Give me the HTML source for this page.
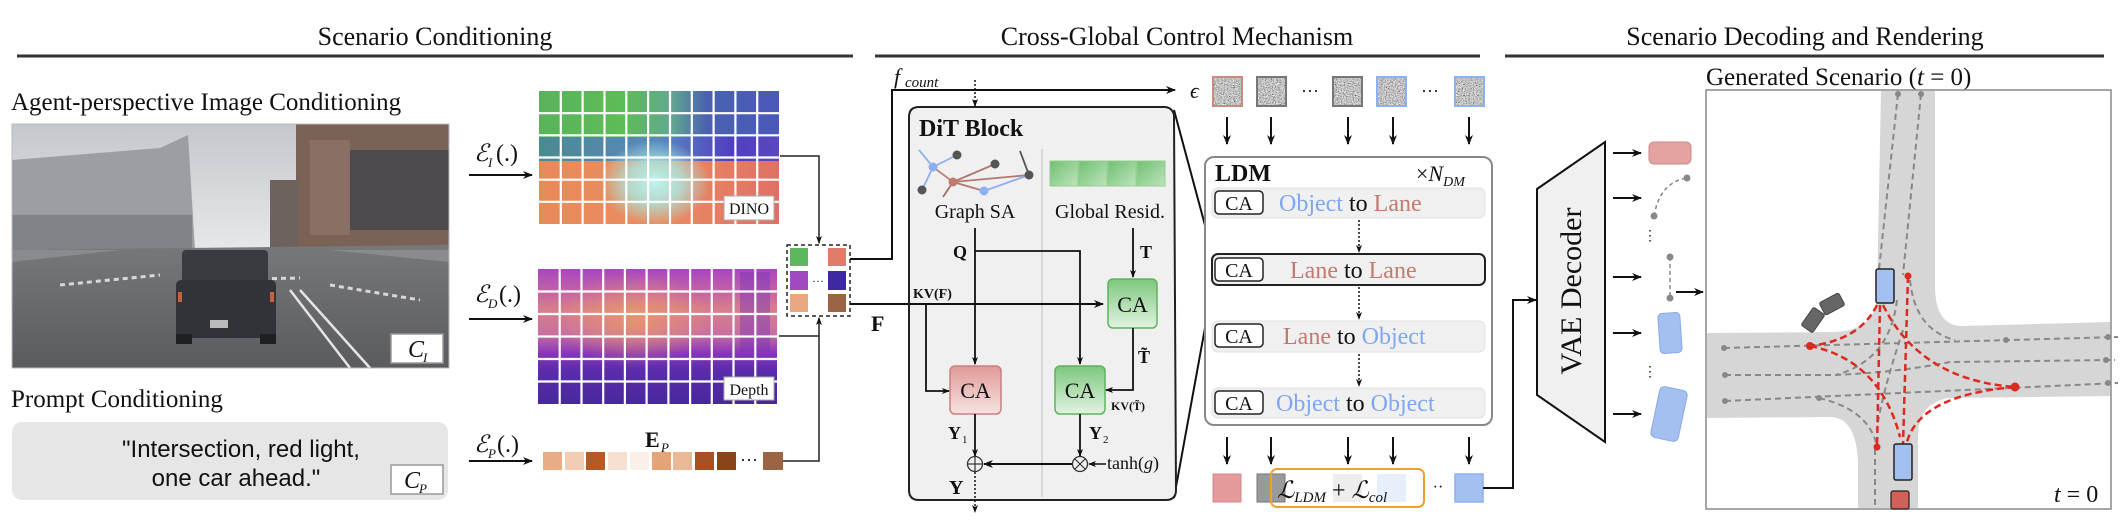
<!DOCTYPE html>
<html><head><meta charset="utf-8"><style>
html,body{margin:0;padding:0;background:#fff;}
svg{display:block;}
text{font-family:"Liberation Serif","DejaVu Serif",serif;fill:#111;}
.sans{font-family:"Liberation Sans","DejaVu Sans",sans-serif;}
.it{font-style:italic;}
.b{font-weight:bold;}
</style></head><body>
<svg width="2128" height="525" viewBox="0 0 2128 525" xmlns="http://www.w3.org/2000/svg">
<defs>
<marker id="ar" markerWidth="10" markerHeight="10" refX="9" refY="5" orient="auto" markerUnits="userSpaceOnUse"><path d="M0,1 L10,5 L0,9 L3,5 Z" fill="#111"/></marker>
<marker id="ars" markerWidth="8" markerHeight="8" refX="7" refY="4" orient="auto" markerUnits="userSpaceOnUse"><path d="M0,1 L8,4 L0,7 L2,4 Z" fill="#111"/></marker>
<filter id="noise" x="0" y="0" width="100%" height="100%"><feTurbulence type="fractalNoise" baseFrequency="0.9" numOctaves="2" seed="3"/><feColorMatrix type="matrix" values="0.33 0.33 0.33 0 0  0.33 0.33 0.33 0 0  0.33 0.33 0.33 0 0  0 0 0 0 1"/><feComponentTransfer><feFuncR type="linear" slope="2.6" intercept="-0.75"/><feFuncG type="linear" slope="2.6" intercept="-0.75"/><feFuncB type="linear" slope="2.6" intercept="-0.75"/></feComponentTransfer></filter>
<linearGradient id="dinoTop" x1="0" x2="1" y1="0" y2="0"><stop offset="0" stop-color="#5ab35c"/><stop offset="0.35" stop-color="#5cbc55"/><stop offset="0.55" stop-color="#62a890"/><stop offset="0.7" stop-color="#4a62b0"/><stop offset="1" stop-color="#4a58b8"/></linearGradient>
<linearGradient id="dinoMid" x1="0" x2="1" y1="0" y2="0"><stop offset="0" stop-color="#4a8a90"/><stop offset="0.5" stop-color="#5a88c0"/><stop offset="0.8" stop-color="#5040c0"/><stop offset="1" stop-color="#5a48c0"/></linearGradient>
<linearGradient id="dinoBot" x1="0" x2="1" y1="0" y2="0"><stop offset="0" stop-color="#e88a58"/><stop offset="0.5" stop-color="#ea8c60"/><stop offset="1" stop-color="#e07066"/></linearGradient>
<radialGradient id="glow" cx="0.5" cy="0.5" r="0.5"><stop offset="0" stop-color="#bff4ee"/><stop offset="0.5" stop-color="#a8e8e0" stop-opacity="0.8"/><stop offset="1" stop-color="#a8e8e0" stop-opacity="0"/></radialGradient>
<linearGradient id="depth" x1="0" x2="0" y1="0" y2="1"><stop offset="0" stop-color="#a846c0"/><stop offset="0.15" stop-color="#c060a8"/><stop offset="0.3" stop-color="#d87e8a"/><stop offset="0.48" stop-color="#c870a0"/><stop offset="0.62" stop-color="#8a36b8"/><stop offset="0.75" stop-color="#5a2cac"/><stop offset="1" stop-color="#48289e"/></linearGradient>
<radialGradient id="orangeP" cx="0.5" cy="0.5" r="0.5"><stop offset="0" stop-color="#f0a060" stop-opacity="0.7"/><stop offset="1" stop-color="#f0a060" stop-opacity="0"/></radialGradient>
<linearGradient id="gCA" x1="0" x2="0" y1="0" y2="1"><stop offset="0" stop-color="#7cc77c"/><stop offset="1" stop-color="#e2f3e2"/></linearGradient>
<linearGradient id="rCA" x1="0" x2="0" y1="0" y2="1"><stop offset="0" stop-color="#e09a98"/><stop offset="1" stop-color="#f6e2e0"/></linearGradient>
<linearGradient id="gsq" x1="0" x2="1" y1="0" y2="1"><stop offset="0" stop-color="#6fc06f"/><stop offset="1" stop-color="#bfe3bf"/></linearGradient>
<linearGradient id="sky" x1="0" x2="0" y1="0" y2="1"><stop offset="0" stop-color="#c4c7cc"/><stop offset="0.6" stop-color="#eceded"/><stop offset="1" stop-color="#d5d6d8"/></linearGradient>
<linearGradient id="road" x1="0" x2="0" y1="0" y2="1"><stop offset="0" stop-color="#77787b"/><stop offset="1" stop-color="#5a5b5e"/></linearGradient>
</defs>

<text x="435" y="45" font-size="26" text-anchor="middle">Scenario Conditioning</text>
<line x1="17" y1="56" x2="853" y2="56" stroke="#333" stroke-width="3"/>
<text x="1177" y="45" font-size="26" text-anchor="middle">Cross-Global Control Mechanism</text>
<line x1="875" y1="56" x2="1480" y2="56" stroke="#333" stroke-width="3"/>
<text x="1805" y="45" font-size="26" text-anchor="middle">Scenario Decoding and Rendering</text>
<line x1="1505" y1="56" x2="2104" y2="56" stroke="#333" stroke-width="3"/>

<text x="11" y="110" font-size="25">Agent-perspective Image Conditioning</text>
<g>
<rect x="12" y="124" width="437" height="244" fill="url(#sky)"/>
<path d="M12,160 L160,148 L188,135 L195,250 L12,262 Z" fill="#9c9ea3"/>
<rect x="12" y="215" width="180" height="45" fill="#7f8287"/>
<path d="M296,124 L449,124 L449,248 L296,250 Z" fill="#7b6256"/>
<rect x="350" y="150" width="99" height="80" fill="#4c4a4c"/>
<rect x="310" y="140" width="40" height="95" fill="#8a7064"/>
<rect x="270" y="180" width="28" height="70" fill="#6e625c"/>
<path d="M12,250 L449,245 L449,368 L12,368 Z" fill="url(#road)"/>
<path d="M12,262 L120,250 L330,250 L449,262 L449,250 L12,250Z" fill="#8a8b8e"/>
<path d="M60,285 L160,275 M200,280 L300,278 M330,285 L420,300" stroke="#d8d8d8" stroke-width="3" stroke-dasharray="5 4"/>
<path d="M290,290 L350,368 M300,290 L370,368" stroke="#e4e4e4" stroke-width="2.5"/>
<rect x="182" y="250" width="86" height="34" rx="4" fill="#3a3b40"/>
<rect x="176" y="280" width="100" height="58" rx="5" fill="#323338"/>
<rect x="176" y="334" width="16" height="10" fill="#1f2023"/>
<rect x="260" y="334" width="16" height="10" fill="#1f2023"/>
<rect x="210" y="320" width="18" height="8" fill="#bbb"/>
<rect x="178" y="292" width="4" height="10" fill="#c56040"/>
<rect x="270" y="292" width="4" height="10" fill="#c56040"/>
<rect x="12" y="124" width="437" height="244" fill="none" stroke="#bbb" stroke-width="1"/>
</g>
<rect x="391" y="334" width="52" height="29" fill="#fff" stroke="#999" stroke-width="1.5"/>
<text x="408" y="357" font-size="24" class="it">C</text><text x="423" y="362" font-size="13" class="it">I</text>

<text x="11" y="407" font-size="25">Prompt Conditioning</text>
<rect x="12" y="422" width="436" height="78" rx="10" fill="#e6e6e6"/>
<text x="241" y="457" font-size="24" text-anchor="middle" class="sans">"Intersection, red light,</text>
<text x="236" y="486" font-size="24" text-anchor="middle" class="sans">one car ahead."</text>
<rect x="391" y="465" width="52" height="29" fill="#fff" stroke="#999" stroke-width="1.5"/>
<text x="404" y="488" font-size="24" class="it">C</text><text x="419" y="493" font-size="13" class="it">P</text>

<text x="474" y="161" font-size="24" class="it">ℰ</text><text x="488" y="167" font-size="13" class="it">I</text><text x="496" y="161" font-size="24">(.)</text>
<line x1="469" y1="175" x2="532" y2="175" stroke="#111" stroke-width="2" marker-end="url(#ar)"/>
<text x="474" y="302" font-size="24" class="it">ℰ</text><text x="488" y="308" font-size="13" class="it">D</text><text x="499" y="302" font-size="24">(.)</text>
<line x1="469" y1="319" x2="532" y2="319" stroke="#111" stroke-width="2" marker-end="url(#ar)"/>
<text x="474" y="452" font-size="24" class="it">ℰ</text><text x="488" y="458" font-size="13" class="it">P</text><text x="497" y="452" font-size="24">(.)</text>
<line x1="469" y1="461" x2="532" y2="461" stroke="#111" stroke-width="2" marker-end="url(#ar)"/>

<g>
<rect x="539" y="91" width="240" height="133" fill="url(#dinoBot)"/>
<rect x="539" y="91" width="240" height="70" fill="url(#dinoMid)"/>
<rect x="539" y="91" width="240" height="46" fill="url(#dinoTop)"/>
<rect x="600" y="140" width="110" height="85" fill="url(#glow)"/>
<g stroke="#fff" stroke-width="2.2">
<line x1="560.8" y1="91" x2="560.8" y2="224"/><line x1="582.6" y1="91" x2="582.6" y2="224"/><line x1="604.5" y1="91" x2="604.5" y2="224"/><line x1="626.3" y1="91" x2="626.3" y2="224"/><line x1="648.1" y1="91" x2="648.1" y2="224"/><line x1="670" y1="91" x2="670" y2="224"/><line x1="691.8" y1="91" x2="691.8" y2="224"/><line x1="713.6" y1="91" x2="713.6" y2="224"/><line x1="735.4" y1="91" x2="735.4" y2="224"/><line x1="757.2" y1="91" x2="757.2" y2="224"/>
<line x1="539" y1="113.2" x2="779" y2="113.2"/><line x1="539" y1="135.3" x2="779" y2="135.3"/><line x1="539" y1="157.5" x2="779" y2="157.5"/><line x1="539" y1="179.7" x2="779" y2="179.7"/><line x1="539" y1="201.8" x2="779" y2="201.8"/>
</g>
<rect x="724" y="196" width="50" height="24" fill="#fff" stroke="#aaa"/>
<text x="749" y="214" font-size="16" text-anchor="middle">DINO</text>
</g>

<g>
<rect x="538" y="269" width="239" height="135" fill="url(#depth)"/>
<rect x="560" y="272" width="150" height="95" fill="url(#orangeP)"/>
<rect x="740" y="272" width="30" height="80" fill="#7a36b8" opacity="0.45"/>
<g stroke="#fff" stroke-width="2.2">
<line x1="559.7" y1="269" x2="559.7" y2="404"/><line x1="581.5" y1="269" x2="581.5" y2="404"/><line x1="603.2" y1="269" x2="603.2" y2="404"/><line x1="624.9" y1="269" x2="624.9" y2="404"/><line x1="646.6" y1="269" x2="646.6" y2="404"/><line x1="668.4" y1="269" x2="668.4" y2="404"/><line x1="690.1" y1="269" x2="690.1" y2="404"/><line x1="711.8" y1="269" x2="711.8" y2="404"/><line x1="733.5" y1="269" x2="733.5" y2="404"/><line x1="755.3" y1="269" x2="755.3" y2="404"/>
<line x1="538" y1="291.5" x2="777" y2="291.5"/><line x1="538" y1="314" x2="777" y2="314"/><line x1="538" y1="336.5" x2="777" y2="336.5"/><line x1="538" y1="359" x2="777" y2="359"/><line x1="538" y1="381.5" x2="777" y2="381.5"/>
</g>
<rect x="724" y="377" width="50" height="23" fill="#fff" stroke="#aaa"/>
<text x="749" y="395" font-size="16" text-anchor="middle">Depth</text>
</g>

<text x="645" y="447" font-size="22" class="b">E</text><text x="661" y="452" font-size="13" class="it">P</text>
<g>
<rect x="543" y="452" width="19" height="18" fill="#e8ad84"/>
<rect x="565" y="452" width="19" height="18" fill="#f3cdb3"/>
<rect x="586" y="452" width="19" height="18" fill="#b35a25"/>
<rect x="608" y="452" width="19" height="18" fill="#f6e0d2"/>
<rect x="630" y="452" width="19" height="18" fill="#faf0e8"/>
<rect x="652" y="452" width="19" height="18" fill="#e5a377"/>
<rect x="673" y="452" width="19" height="18" fill="#eab797"/>
<rect x="695" y="452" width="19" height="18" fill="#a75022"/>
<rect x="717" y="452" width="19" height="18" fill="#8b4419"/>
<text x="749" y="466" font-size="18" text-anchor="middle">···</text>
<rect x="763" y="452" width="20" height="18" fill="#9b6545"/>
</g>

<polyline points="780,156 819,156 819,243" fill="none" stroke="#222" stroke-width="1.5" marker-end="url(#ars)"/>
<polyline points="783,461 819,461 819,318" fill="none" stroke="#222" stroke-width="1.5" marker-end="url(#ars)"/>
<line x1="779" y1="336" x2="819" y2="336" stroke="#222" stroke-width="1.5"/>
<rect x="787" y="245" width="63" height="71" fill="#fff" stroke="#222" stroke-width="1.5" stroke-dasharray="4 3"/>
<rect x="790" y="248" width="18" height="18" fill="#5cb85c"/>
<rect x="828" y="248" width="18" height="18" fill="#e07d68"/>
<rect x="790" y="271" width="18" height="19" fill="#a049c0"/>
<text x="818" y="285" font-size="12" text-anchor="middle">···</text>
<rect x="828" y="271" width="18" height="19" fill="#4028a0"/>
<rect x="790" y="294" width="18" height="18" fill="#e9a882"/>
<rect x="828" y="294" width="18" height="18" fill="#9b6545"/>

<polyline points="850,259 892,259 892,90 1175,90" fill="none" stroke="#111" stroke-width="2" marker-end="url(#ar)"/>
<text x="894" y="84" font-size="22" class="it">f</text><text x="905" y="87" font-size="15" class="it">count</text>
<line x1="850" y1="304" x2="1103" y2="304" stroke="#111" stroke-width="2" marker-end="url(#ar)"/>
<text x="871" y="331" font-size="22" class="b">F</text>

<line x1="1174" y1="110" x2="1213" y2="255" stroke="#111" stroke-width="2"/>
<line x1="1174" y1="498" x2="1213" y2="284" stroke="#111" stroke-width="2"/>

<path d="M919,107 L1164,107 Q1172,107 1174,115 L1176,490 Q1176,500 1166,500 L919,500 Q909,500 909,490 L909,117 Q909,107 919,107 Z" fill="#f0f0f0" stroke="#222" stroke-width="2"/>
<line x1="1042" y1="149" x2="1042" y2="497" stroke="#d0d0d0" stroke-width="1.5"/>
<line x1="975" y1="80" x2="975" y2="106" stroke="#111" stroke-width="1.5" stroke-dasharray="2 2" marker-end="url(#ars)"/>
<text x="919" y="136" font-size="24" class="b">DiT Block</text>
<line x1="909" y1="304" x2="1103" y2="304" stroke="#111" stroke-width="2" marker-end="url(#ar)"/>
<text x="913" y="298" font-size="14" class="b">KV(F)</text>
<g stroke-width="1.8">
<line x1="919" y1="150" x2="933" y2="167" stroke="#8fb0ef"/>
<line x1="933" y1="167" x2="957" y2="155" stroke="#8fb0ef"/>
<line x1="933" y1="167" x2="922" y2="190" stroke="#8fb0ef"/>
<line x1="933" y1="167" x2="953" y2="182" stroke="#c08080"/>
<line x1="953" y1="182" x2="995" y2="164" stroke="#b07870"/>
<line x1="953" y1="182" x2="1029" y2="175" stroke="#b07870"/>
<line x1="953" y1="182" x2="984" y2="191" stroke="#b07870"/>
<line x1="984" y1="191" x2="1029" y2="175" stroke="#8fb0ef"/>
<line x1="1020" y1="151" x2="1029" y2="175" stroke="#555"/>
<line x1="953" y1="182" x2="943" y2="197" stroke="#a07060"/>
</g>
<circle cx="957" cy="155" r="4.5" fill="#555"/><circle cx="995" cy="164" r="4.5" fill="#555"/><circle cx="1029" cy="175" r="4.5" fill="#555"/><circle cx="922" cy="190" r="4.5" fill="#555"/>
<circle cx="933" cy="167" r="4.5" fill="#8fb0ef"/><circle cx="984" cy="191" r="4.5" fill="#8fb0ef"/><circle cx="953" cy="182" r="4.5" fill="#c07a70"/>
<text x="975" y="218" font-size="20" text-anchor="middle">Graph SA</text>
<rect x="1050" y="161" width="28" height="25" fill="url(#gsq)" stroke="#8fcf8f"/>
<rect x="1079" y="161" width="28" height="25" fill="url(#gsq)" stroke="#8fcf8f"/>
<rect x="1108" y="161" width="28" height="25" fill="url(#gsq)" stroke="#8fcf8f"/>
<rect x="1137" y="161" width="28" height="25" fill="url(#gsq)" stroke="#8fcf8f"/>
<text x="1110" y="218" font-size="20" text-anchor="middle">Global Resid.</text>
<line x1="975" y1="228" x2="975" y2="364" stroke="#111" stroke-width="1.8" marker-end="url(#ars)"/>
<text x="953" y="258" font-size="18" class="b">Q</text>
<polyline points="975,251 1080,251 1080,364" fill="none" stroke="#111" stroke-width="1.8" marker-end="url(#ars)"/>
<line x1="1133" y1="228" x2="1133" y2="277" stroke="#111" stroke-width="1.8" marker-end="url(#ars)"/>
<text x="1140" y="258" font-size="18" class="b">T</text>
<rect x="1108" y="279" width="49" height="49" rx="5" fill="url(#gCA)" stroke="#5fb35f" stroke-width="1.5"/>
<text x="1132.5" y="312" font-size="22" text-anchor="middle">CA</text>
<rect x="950" y="366" width="51" height="48" rx="5" fill="url(#rCA)" stroke="#c98080" stroke-width="1.5"/>
<text x="975.5" y="398" font-size="22" text-anchor="middle">CA</text>
<rect x="1055" y="366" width="50" height="48" rx="5" fill="url(#gCA)" stroke="#5fb35f" stroke-width="1.5"/>
<text x="1080" y="398" font-size="22" text-anchor="middle">CA</text>
<polyline points="1133,328 1133,390 1106,390" fill="none" stroke="#111" stroke-width="1.8" marker-end="url(#ars)"/>
<text x="1138" y="363" font-size="18" class="b">T̃</text>
<text x="1111" y="410" font-size="12" class="b">KV(T̃)</text>
<polyline points="926,304 926,391 949,391" fill="none" stroke="#111" stroke-width="1.8" marker-end="url(#ars)"/>
<line x1="975" y1="414" x2="975" y2="456" stroke="#111" stroke-width="1.8" marker-end="url(#ars)"/>
<line x1="1080" y1="414" x2="1080" y2="456" stroke="#111" stroke-width="1.8" marker-end="url(#ars)"/>
<text x="948" y="439" font-size="18" class="b">Y</text><text x="962" y="443" font-size="11">1</text>
<text x="1089" y="439" font-size="18" class="b">Y</text><text x="1103" y="443" font-size="11">2</text>
<circle cx="975" cy="464" r="7.5" fill="none" stroke="#333" stroke-width="1.3"/>
<line x1="967.5" y1="464" x2="982.5" y2="464" stroke="#333" stroke-width="1.2"/><line x1="975" y1="456.5" x2="975" y2="471.5" stroke="#333" stroke-width="1.2"/>
<circle cx="1080" cy="464" r="7.5" fill="none" stroke="#333" stroke-width="1.3"/>
<line x1="1075" y1="459" x2="1085" y2="469" stroke="#333" stroke-width="1.2"/><line x1="1085" y1="459" x2="1075" y2="469" stroke="#333" stroke-width="1.2"/>
<line x1="1072" y1="464" x2="984" y2="464" stroke="#111" stroke-width="2" marker-end="url(#ar)"/>
<line x1="1106" y1="464" x2="1089" y2="464" stroke="#111" stroke-width="1.5" marker-end="url(#ars)"/>
<text x="1107" y="469" font-size="18">tanh(<tspan class="it">g</tspan>)</text>
<text x="949" y="494" font-size="20" class="b">Y</text>
<line x1="975" y1="472" x2="975" y2="512" stroke="#111" stroke-width="1.5" stroke-dasharray="2 2" marker-end="url(#ars)"/>

<text x="1190" y="98" font-size="22" class="it">ϵ</text>
<g>
<rect x="1213" y="77" width="29" height="29" fill="#fff" filter="url(#noise)"/><rect x="1213" y="77" width="29" height="29" fill="none" stroke="#c98a84" stroke-width="2"/>
<rect x="1257" y="77" width="29" height="29" fill="#fff" filter="url(#noise)"/><rect x="1257" y="77" width="29" height="29" fill="none" stroke="#777" stroke-width="2"/>
<text x="1310" y="97" font-size="18" text-anchor="middle">···</text>
<rect x="1333" y="77" width="29" height="29" fill="#fff" filter="url(#noise)"/><rect x="1333" y="77" width="29" height="29" fill="none" stroke="#777" stroke-width="2"/>
<rect x="1377" y="77" width="29" height="29" fill="#fff" filter="url(#noise)"/><rect x="1377" y="77" width="29" height="29" fill="none" stroke="#8fb0ef" stroke-width="2"/>
<text x="1430" y="97" font-size="18" text-anchor="middle">···</text>
<rect x="1455" y="77" width="29" height="29" fill="#fff" filter="url(#noise)"/><rect x="1455" y="77" width="29" height="29" fill="none" stroke="#8fb0ef" stroke-width="2"/>
</g>
<g stroke="#111" stroke-width="2">
<line x1="1227" y1="117" x2="1227" y2="144" marker-end="url(#ar)"/>
<line x1="1271" y1="117" x2="1271" y2="144" marker-end="url(#ar)"/>
<line x1="1348" y1="117" x2="1348" y2="144" marker-end="url(#ar)"/>
<line x1="1393" y1="117" x2="1393" y2="144" marker-end="url(#ar)"/>
<line x1="1469" y1="117" x2="1469" y2="144" marker-end="url(#ar)"/>
<line x1="1227" y1="437" x2="1227" y2="464" marker-end="url(#ar)"/>
<line x1="1271" y1="437" x2="1271" y2="464" marker-end="url(#ar)"/>
<line x1="1348" y1="437" x2="1348" y2="464" marker-end="url(#ar)"/>
<line x1="1393" y1="437" x2="1393" y2="464" marker-end="url(#ar)"/>
<line x1="1469" y1="437" x2="1469" y2="464" marker-end="url(#ar)"/>
</g>

<rect x="1205" y="157" width="287" height="268" rx="9" fill="#fff" stroke="#888" stroke-width="2"/>
<text x="1215" y="181" font-size="24" class="b">LDM</text>
<text x="1416" y="181" font-size="22">×<tspan class="it">N</tspan><tspan class="it" font-size="14" dy="5">DM</tspan></text>
<rect x="1212" y="188" width="273" height="30" rx="6" fill="#f0f0f0" stroke="#e0e0e0"/>
<rect x="1212" y="254" width="273" height="31" rx="6" fill="#f0f0f0" stroke="#222" stroke-width="2"/>
<rect x="1212" y="321" width="273" height="31" rx="6" fill="#f0f0f0" stroke="#e0e0e0"/>
<rect x="1212" y="388" width="273" height="30" rx="6" fill="#f0f0f0" stroke="#e0e0e0"/>
<g fill="#fff" stroke="#222" stroke-width="1.5">
<rect x="1215" y="191" width="48" height="23" rx="4"/>
<rect x="1215" y="258" width="48" height="23" rx="4"/>
<rect x="1215" y="324" width="48" height="23" rx="4"/>
<rect x="1215" y="391" width="48" height="23" rx="4"/>
</g>
<g font-size="20" text-anchor="middle"><text x="1239" y="210">CA</text><text x="1239" y="277">CA</text><text x="1239" y="343">CA</text><text x="1239" y="410">CA</text></g>
<g font-size="24">
<text x="1279" y="211"><tspan fill="#7fa6f0">Object</tspan> to <tspan fill="#c07a70">Lane</tspan></text>
<text x="1290" y="278"><tspan fill="#c07a70">Lane</tspan> to <tspan fill="#c07a70">Lane</tspan></text>
<text x="1283" y="344"><tspan fill="#c07a70">Lane</tspan> to <tspan fill="#7fa6f0">Object</tspan></text>
<text x="1276" y="411"><tspan fill="#7fa6f0">Object</tspan> to <tspan fill="#7fa6f0">Object</tspan></text>
</g>
<g stroke="#111" stroke-width="1.5" stroke-dasharray="2 2">
<line x1="1359" y1="220" x2="1359" y2="252" marker-end="url(#ars)"/>
<line x1="1359" y1="287" x2="1359" y2="319" marker-end="url(#ars)"/>
<line x1="1359" y1="354" x2="1359" y2="386" marker-end="url(#ars)"/>
</g>

<rect x="1213" y="474" width="28" height="28" fill="#e49a9a" stroke="#d08888"/>
<rect x="1257" y="474" width="28" height="28" fill="#9a9a9a" stroke="#777"/>
<rect x="1333" y="474" width="29" height="28" fill="#ededed"/>
<rect x="1377" y="474" width="29" height="28" fill="#e8effc"/>
<rect x="1271" y="469" width="153" height="38" rx="6" fill="none" stroke="#f0a030" stroke-width="2"/>
<text x="1277" y="498" font-size="24" class="it">ℒ<tspan font-size="15" dy="4">LDM</tspan><tspan dy="-4" font-style="normal"> + </tspan>ℒ<tspan font-size="15" dy="4">col</tspan></text>
<text x="1438" y="492" font-size="16" text-anchor="middle">··</text>
<rect x="1455" y="474" width="28" height="28" fill="#a4c0f0" stroke="#8fb0ef" stroke-width="1.5"/>
<polyline points="1483,488 1513,488 1513,300 1536,300" fill="none" stroke="#111" stroke-width="2" marker-end="url(#ar)"/>

<path d="M1537,189 L1605,142 L1605,442 L1537,395 Z" fill="#f0f0f0" stroke="#111" stroke-width="2"/>
<text x="0" y="0" font-size="30" text-anchor="middle" transform="translate(1581,291) rotate(-90)">VAE Decoder</text>
<g stroke="#111" stroke-width="2">
<line x1="1613" y1="153" x2="1641" y2="153" marker-end="url(#ar)"/>
<line x1="1613" y1="198" x2="1641" y2="198" marker-end="url(#ar)"/>
<line x1="1613" y1="277" x2="1641" y2="277" marker-end="url(#ar)"/>
<line x1="1613" y1="333" x2="1641" y2="333" marker-end="url(#ar)"/>
<line x1="1613" y1="414" x2="1641" y2="414" marker-end="url(#ar)"/>
<line x1="1676" y1="292" x2="1703" y2="292" marker-end="url(#ar)"/>
</g>
<rect x="1649" y="142" width="42" height="22" rx="5" fill="#e4a3a0" stroke="#cc8a88"/>
<path d="M1654,216 Q1660,182 1687,178" fill="none" stroke="#888" stroke-width="1.5" stroke-dasharray="4 3"/>
<circle cx="1654" cy="216" r="3.5" fill="#888"/><circle cx="1687" cy="178" r="3.5" fill="#888"/>
<text x="1650" y="240" font-size="14" text-anchor="middle">⋮</text>
<line x1="1670" y1="257" x2="1670" y2="298" stroke="#888" stroke-width="1.5" stroke-dasharray="4 3"/>
<circle cx="1670" cy="257" r="3.5" fill="#888"/><circle cx="1670" cy="298" r="3.5" fill="#888"/>
<rect x="-11" y="-20" width="22" height="40" rx="4" fill="#a4c0f0" stroke="#8aaae8" transform="translate(1670,333) rotate(-4)"/>
<text x="1650" y="376" font-size="14" text-anchor="middle">⋮</text>
<rect x="-14" y="-26" width="28" height="52" rx="5" fill="#a4c0f0" stroke="#8aaae8" transform="translate(1669,414) rotate(12)"/>

<text x="1706" y="85" font-size="25">Generated Scenario  (<tspan class="it">t</tspan> = 0)</text>
<rect x="1706" y="90" width="405" height="419" fill="#fff" stroke="#888" stroke-width="1.5"/>
<path d="M1881,91 L1935,91 L1935,285 Q1935,326 1962,326 L2110,322 L2110,396 L1948,398 Q1918,404 1918,436 L1918,508 L1858,508 L1858,462 Q1856,417 1830,417 L1707,418 L1707,333 L1835,332 Q1876,330 1877,296 Z" fill="#d6d6d6"/>
<g fill="none" stroke="#888" stroke-width="2" stroke-dasharray="6 4">
<line x1="1898" y1="94" x2="1879" y2="269"/>
<line x1="1921" y1="94" x2="1903" y2="275"/>
<path d="M1724,348 L2118,337"/>
<path d="M1725,375 L1836,375 Q1900,372 1950,362 L2115,360"/>
<path d="M1725,401 L2118,383"/>
<path d="M1910,280 Q1915,330 1955,340"/>
<path d="M1897,300 Q1890,360 1836,375"/>
<path d="M1819,398 Q1870,410 1877,447"/>
<path d="M1903,330 Q1880,400 1877,430"/>
<path d="M1875,449 L1875,509"/>
</g>
<g fill="#888"><circle cx="1898" cy="94" r="3"/><circle cx="1921" cy="94" r="3"/><circle cx="1724" cy="348" r="3"/><circle cx="1725" cy="375" r="3"/><circle cx="1725" cy="401" r="3"/><circle cx="2006" cy="340" r="3"/><circle cx="2108" cy="337" r="3"/><circle cx="2106" cy="360" r="3"/><circle cx="2108" cy="383" r="3"/><circle cx="1819" cy="398" r="3"/></g>
<g fill="none" stroke="#dd2a20" stroke-width="2.5" stroke-dasharray="7 4">
<path d="M1877,305 Q1860,340 1810,346"/>
<path d="M1880,305 L1877,447"/>
<path d="M1883,305 Q1920,380 2015,387"/>
<path d="M1908,276 L1903,445"/>
<path d="M1810,346 Q1880,360 1900,437"/>
<path d="M2015,387 Q1920,395 1907,442"/>
</g>
<g fill="#dd2a20"><circle cx="1810" cy="346" r="4"/><circle cx="1908" cy="276" r="3.5"/><circle cx="2015" cy="387" r="4.5"/><circle cx="1877" cy="447" r="3.5"/></g>
<rect x="1876" y="269" width="18" height="34" rx="2" fill="#a4c0f0" stroke="#222" stroke-width="1.5"/>
<rect x="1894" y="444" width="18" height="36" rx="2" fill="#a4c0f0" stroke="#222" stroke-width="1.5"/>
<rect x="1891" y="491" width="18" height="18" rx="2" fill="#d06058" stroke="#222" stroke-width="1.2"/>
<rect x="-7" y="-11" width="14" height="22" rx="2" fill="#666" stroke="#444" transform="translate(1813,320) rotate(35)"/>
<rect x="-7" y="-11" width="14" height="22" rx="2" fill="#666" stroke="#444" transform="translate(1832,304) rotate(62)"/>
<text x="2054" y="502" font-size="24"><tspan class="it">t</tspan> = 0</text>
</svg>
</body></html>
